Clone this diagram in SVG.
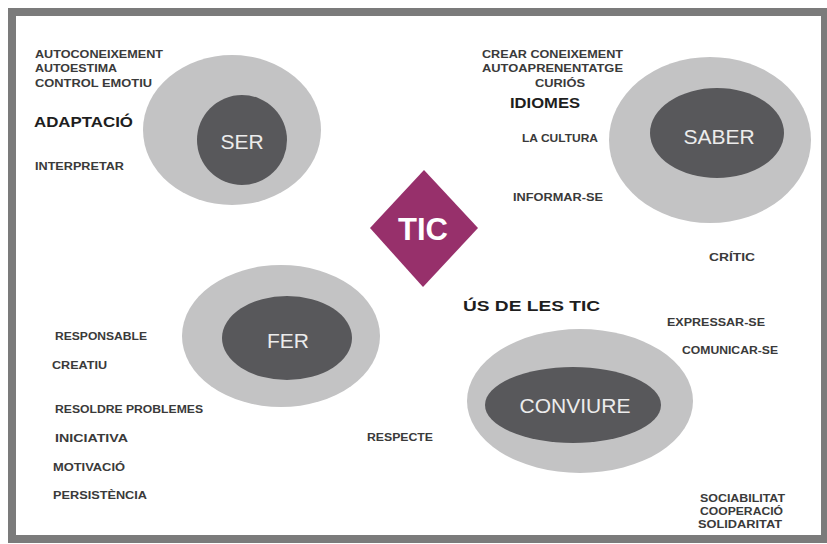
<svg xmlns="http://www.w3.org/2000/svg" width="827" height="544" viewBox="0 0 827 544">
<style>
.outer{fill:#c3c3c4}
.inner{fill:#58585b}
.core{font-family:"Liberation Sans",Arial,sans-serif;font-size:21px;fill:#ececec;text-anchor:middle;dominant-baseline:central}
.t{font-family:"Liberation Sans",Arial,sans-serif;font-size:11px;font-weight:bold;fill:#3a3a3a}
.big{font-family:"Liberation Sans",Arial,sans-serif;font-size:15px;font-weight:bold;fill:#1e1e1e}
</style>
<rect x="0" y="0" width="827" height="544" fill="#ffffff"/>
<rect id="frame" x="12" y="12" width="813" height="527" fill="#ffffff" stroke="#7b7b7b" stroke-width="8"/>
<g id="connectors"/>
<g id="ser">
<ellipse class="outer" cx="232" cy="130" rx="89" ry="75"/>
<ellipse class="inner" cx="242" cy="140" rx="45" ry="45"/>
<text class="core" x="242" y="141">SER</text>
</g>
<g id="saber">
<ellipse class="outer" cx="710" cy="140" rx="101" ry="83"/>
<ellipse class="inner" cx="717" cy="133" rx="67" ry="45"/>
<text class="core" x="719" y="136">SABER</text>
</g>
<g id="fer">
<ellipse class="outer" cx="281" cy="336" rx="99" ry="71"/>
<ellipse class="inner" cx="287" cy="338" rx="65" ry="42"/>
<text class="core" x="288" y="340">FER</text>
</g>
<g id="conviure">
<ellipse class="outer" cx="580" cy="401" rx="113" ry="72"/>
<ellipse class="inner" cx="573" cy="405" rx="88" ry="38"/>
<text class="core" x="575" y="405">CONVIURE</text>
</g>
<g id="tic">
<polygon points="424,170 478,228 423,287 370,228" fill="#97306b"/>
<text x="423" y="229" font-family="'Liberation Sans',Arial,sans-serif" font-size="31" font-weight="bold" fill="#ffffff" text-anchor="middle" dominant-baseline="central">TIC</text>
</g>
<g id="ser-labels">
<text class="t" x="35" y="58" textLength="128" lengthAdjust="spacingAndGlyphs">AUTOCONEIXEMENT</text>
<text class="t" x="35" y="72" textLength="82" lengthAdjust="spacingAndGlyphs">AUTOESTIMA</text>
<text class="t" x="35" y="87" textLength="117" lengthAdjust="spacingAndGlyphs">CONTROL EMOTIU</text>
<text class="big" x="34" y="127" textLength="99" lengthAdjust="spacingAndGlyphs">ADAPTACIÓ</text>
<text class="t" x="35" y="170" textLength="89" lengthAdjust="spacingAndGlyphs">INTERPRETAR</text>
</g>
<g id="saber-labels">
<text class="t" x="482" y="58" textLength="141" lengthAdjust="spacingAndGlyphs">CREAR CONEIXEMENT</text>
<text class="t" x="482" y="72" textLength="141" lengthAdjust="spacingAndGlyphs">AUTOAPRENENTATGE</text>
<text class="t" x="535" y="87" textLength="50" lengthAdjust="spacingAndGlyphs">CURIÓS</text>
<text class="big" x="510" y="108" textLength="70" lengthAdjust="spacingAndGlyphs">IDIOMES</text>
<text class="t" x="522" y="142" textLength="76" lengthAdjust="spacingAndGlyphs">LA CULTURA</text>
<text class="t" x="513" y="201" textLength="90" lengthAdjust="spacingAndGlyphs">INFORMAR-SE</text>
<text class="t" x="709" y="261" textLength="46" lengthAdjust="spacingAndGlyphs">CRÍTIC</text>
</g>
<g id="fer-labels">
<text class="t" x="55" y="340" textLength="92" lengthAdjust="spacingAndGlyphs">RESPONSABLE</text>
<text class="t" x="52" y="369" textLength="55" lengthAdjust="spacingAndGlyphs">CREATIU</text>
<text class="t" x="55" y="413" textLength="148" lengthAdjust="spacingAndGlyphs">RESOLDRE PROBLEMES</text>
<text class="t" x="55" y="442" textLength="73" lengthAdjust="spacingAndGlyphs">INICIATIVA</text>
<text class="t" x="53" y="471" textLength="72" lengthAdjust="spacingAndGlyphs">MOTIVACIÓ</text>
<text class="t" x="53" y="499" textLength="94" lengthAdjust="spacingAndGlyphs">PERSISTÈNCIA</text>
<text class="t" x="367" y="441" textLength="66" lengthAdjust="spacingAndGlyphs">RESPECTE</text>
</g>
<g id="conviure-labels">
<text class="big" x="463" y="311" font-size="16" textLength="137" lengthAdjust="spacingAndGlyphs">ÚS DE LES TIC</text>
<text class="t" x="667" y="326" textLength="98" lengthAdjust="spacingAndGlyphs">EXPRESSAR-SE</text>
<text class="t" x="682" y="354" textLength="96" lengthAdjust="spacingAndGlyphs">COMUNICAR-SE</text>
<text class="t" x="700" y="502" textLength="85" lengthAdjust="spacingAndGlyphs">SOCIABILITAT</text>
<text class="t" x="700" y="515" textLength="83" lengthAdjust="spacingAndGlyphs">COOPERACIÓ</text>
<text class="t" x="698" y="528" textLength="84" lengthAdjust="spacingAndGlyphs">SOLIDARITAT</text>
</g>
</svg>
